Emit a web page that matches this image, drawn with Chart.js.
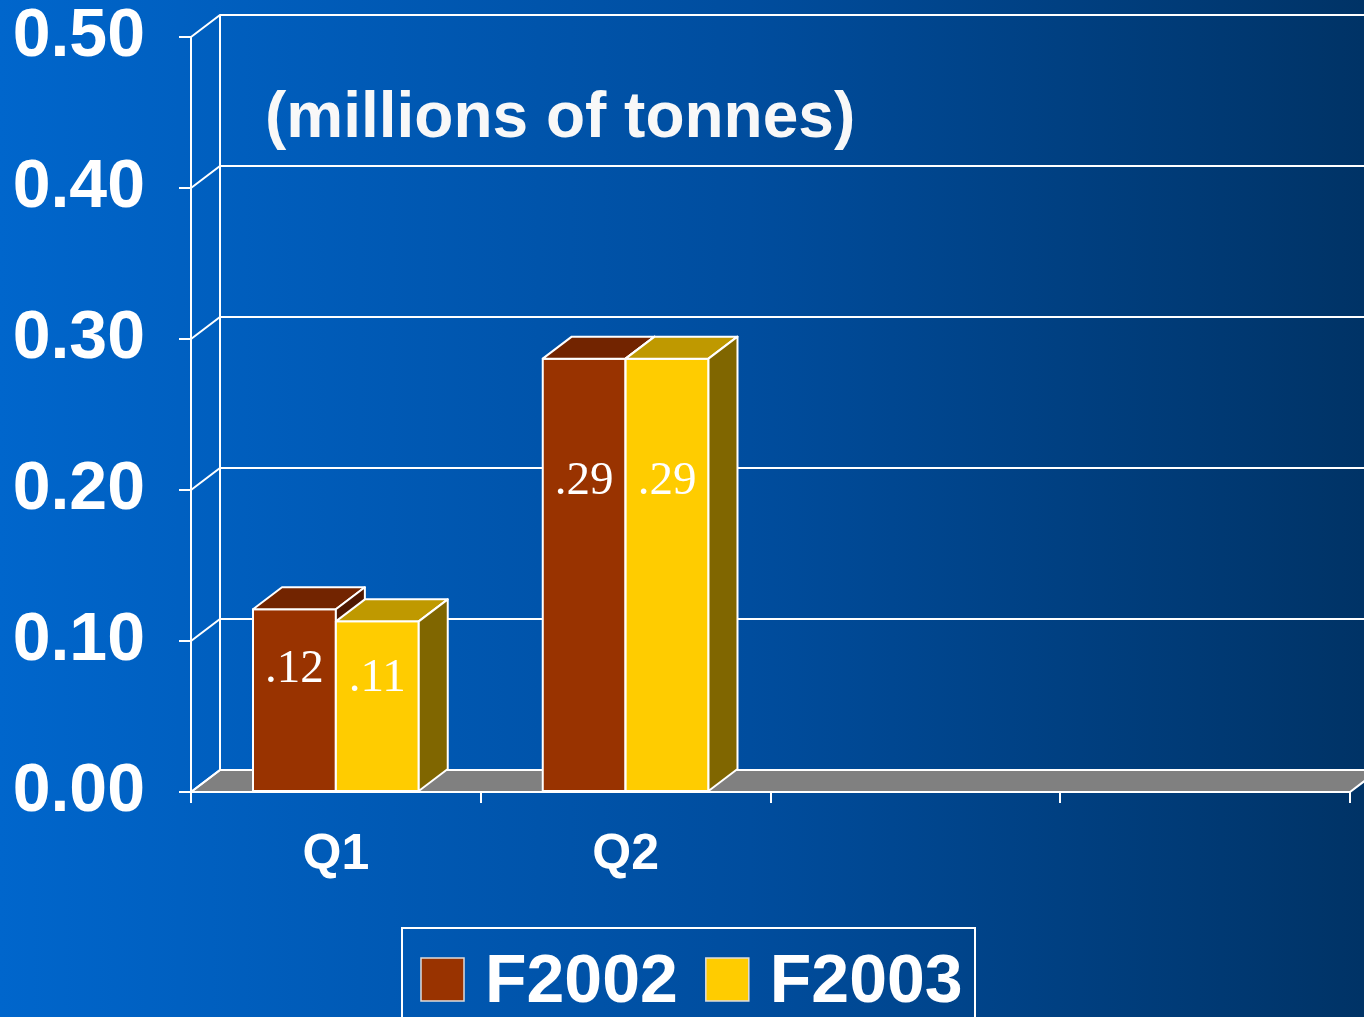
<!DOCTYPE html>
<html>
<head>
<meta charset="utf-8">
<script src="https://cdn.jsdelivr.net/npm/chart.js@4.4.0/dist/chart.umd.min.js"></script>
<style>
  html, body { margin: 0; padding: 0; }
  body {
    width: 1364px; height: 1017px; overflow: hidden;
    background: linear-gradient(to right, #0066cc 0%, #004d9e 55%, #003366 100%);
  }
  canvas { display: block; }
</style>
</head>
<body>
<canvas id="myChart" width="1364" height="1017" style="width:1364px;height:1017px"></canvas>
<script>
// Data for the bar graph
let categories = ["Q1", "Q2", "", ""];
let f2002 = [0.121, 0.287, null, null];
let f2003 = [0.113, 0.287, null, null];
let yTicks = [0, 0.1, 0.2, 0.3, 0.4, 0.5];
let unitText = "(millions of tonnes)";

// depth of the fake 3d look
let DX = 29, DY = 22;
let sansFont = "'Liberation Sans', Arial, sans-serif";
let serifFont = "'Liberation Serif', 'Times New Roman', serif";

let faceColors = [
  { front: "#993300", top: "#722400", side: "#4f1800" },
  { front: "#ffcc00", top: "#bf9900", side: "#806600" }
];

let depthPlugin = {
  id: "depth",
  beforeDatasetsDraw(chart) {
    let ctx = chart.ctx, a = chart.chartArea, y = chart.scales.y;
    ctx.save();
    ctx.strokeStyle = "#ffffff";
    ctx.lineWidth = 2;
    // floor
    let floorY = y.getPixelForValue(0);
    ctx.fillStyle = "#808080";
    ctx.beginPath();
    ctx.moveTo(a.left, floorY);
    ctx.lineTo(a.left + DX, floorY - DY);
    ctx.lineTo(a.right + DX, floorY - DY);
    ctx.lineTo(a.right, floorY);
    ctx.closePath();
    ctx.fill();
    ctx.stroke();
    // back wall grid lines and the side connectors
    yTicks.forEach(v => {
      let py = y.getPixelForValue(v);
      ctx.beginPath();
      ctx.moveTo(a.left, py);
      ctx.lineTo(a.left + DX, py - DY);
      ctx.lineTo(chart.width, py - DY);
      ctx.stroke();
    });
    ctx.beginPath();
    ctx.moveTo(a.left + DX, y.getPixelForValue(yTicks[yTicks.length - 1]) - DY);
    ctx.lineTo(a.left + DX, floorY - DY);
    ctx.stroke();
    // unit text
    ctx.fillStyle = "#f8f8f8";
    ctx.font = "bold 64px " + sansFont;
    ctx.textAlign = "left";
    ctx.textBaseline = "alphabetic";
    ctx.fillText(unitText, 265, 137);
    ctx.restore();
  },
  afterDatasetsDraw(chart) {
    let ctx = chart.ctx;
    ctx.save();
    ctx.strokeStyle = "#ffffff";
    ctx.lineWidth = 2;
    ctx.lineJoin = "round";
    let labels = [];
    categories.forEach((c, i) => {
      chart.data.datasets.forEach((ds, d) => {
        if (ds.data[i] == null) return;
        let bar = chart.getDatasetMeta(d).data[i];
        let p = bar.getProps(["x", "y", "base", "width"], true);
        let l = p.x - p.width / 2, r = p.x + p.width / 2;
        let col = faceColors[d];
        // front
        ctx.fillStyle = col.front;
        ctx.fillRect(l, p.y, r - l, p.base - p.y);
        ctx.strokeRect(l, p.y, r - l, p.base - p.y);
        // top
        ctx.fillStyle = col.top;
        ctx.beginPath();
        ctx.moveTo(l, p.y);
        ctx.lineTo(l + DX, p.y - DY);
        ctx.lineTo(r + DX, p.y - DY);
        ctx.lineTo(r, p.y);
        ctx.closePath();
        ctx.fill();
        ctx.stroke();
        // side
        ctx.fillStyle = col.side;
        ctx.beginPath();
        ctx.moveTo(r, p.y);
        ctx.lineTo(r + DX, p.y - DY);
        ctx.lineTo(r + DX, p.base - DY);
        ctx.lineTo(r, p.base);
        ctx.closePath();
        ctx.fill();
        ctx.stroke();
        labels.push({ x: p.x, y: p.y + 0.25 * (p.base - p.y) + 27, t: ds.data[i].toFixed(2).replace("0.", ".") });
      });
    });
    // value labels
    ctx.fillStyle = "#ffffff";
    ctx.font = "47px " + serifFont;
    ctx.textAlign = "center";
    ctx.textBaseline = "alphabetic";
    labels.forEach(lb => ctx.fillText(lb.t, lb.x, lb.y));
    ctx.restore();
  },
  afterDraw(chart) {
    // legend box
    let ctx = chart.ctx;
    ctx.save();
    ctx.strokeStyle = "#ffffff";
    ctx.lineWidth = 2;
    ctx.strokeRect(402, 928, 573, 140);
    ctx.font = "bold 68px " + sansFont;
    ctx.textBaseline = "alphabetic";
    ctx.textAlign = "left";
    let x = 421;
    chart.data.datasets.forEach((ds, d) => {
      ctx.fillStyle = faceColors[d].front;
      ctx.fillRect(x, 958, 43, 43);
      ctx.strokeStyle = "#dddddd";
      ctx.lineWidth = 1.5;
      ctx.strokeRect(x, 958, 43, 43);
      ctx.fillStyle = "#ffffff";
      ctx.fillText(ds.label, x + 64, 1002);
      x += 64 + ctx.measureText(ds.label).width + 28;
    });
    ctx.restore();
  }
};

let data = {
  labels: categories,
  datasets: [
    { label: "F2002", data: f2002, backgroundColor: faceColors[0].front, borderColor: "#ffffff", borderWidth: 0 },
    { label: "F2003", data: f2003, backgroundColor: faceColors[1].front, borderColor: "#ffffff", borderWidth: 0 }
  ]
};

let options = {
  responsive: false,
  animation: false,
  layout: { padding: { top: 37, right: 14, bottom: 0, left: 0 } },
  datasets: { bar: { barPercentage: 1, categoryPercentage: 0.572 } },
  plugins: {
    legend: { display: false },
    tooltip: { enabled: false },
    title: { display: false }
  },
  scales: {
    x: {
      grid: { display: true, drawOnChartArea: false, drawTicks: true, tickLength: 11, color: "#ffffff", lineWidth: 2 },
      border: { display: true, color: "#ffffff", width: 2 },
      ticks: { color: "#ffffff", font: { family: sansFont, size: 50, weight: "bold" }, padding: 22, maxRotation: 0 },
      afterFit: s => { s.height = 225; s.paddingLeft = 0; s.paddingRight = 0; }
    },
    y: {
      min: 0,
      max: 0.5,
      grid: { display: true, drawOnChartArea: false, drawTicks: true, tickLength: 12, color: "#ffffff", lineWidth: 2 },
      border: { display: true, color: "#ffffff", width: 2 },
      afterBuildTicks: s => { s.ticks = yTicks.map(v => ({ value: v })); },
      ticks: {
        color: "#ffffff",
        font: { family: sansFont, size: 68, weight: "bold" },
        padding: 34,
        callback: v => Number(v).toFixed(2)
      },
      afterFit: s => { s.width = 191; s.paddingTop = 0; s.paddingBottom = 0; }
    }
  }
};

let ctx = document.getElementById("myChart").getContext("2d");
let myChart = new Chart(ctx, {
  type: "bar",
  data: data,
  options: options,
  plugins: [depthPlugin]
});
</script>
</body>
</html>
